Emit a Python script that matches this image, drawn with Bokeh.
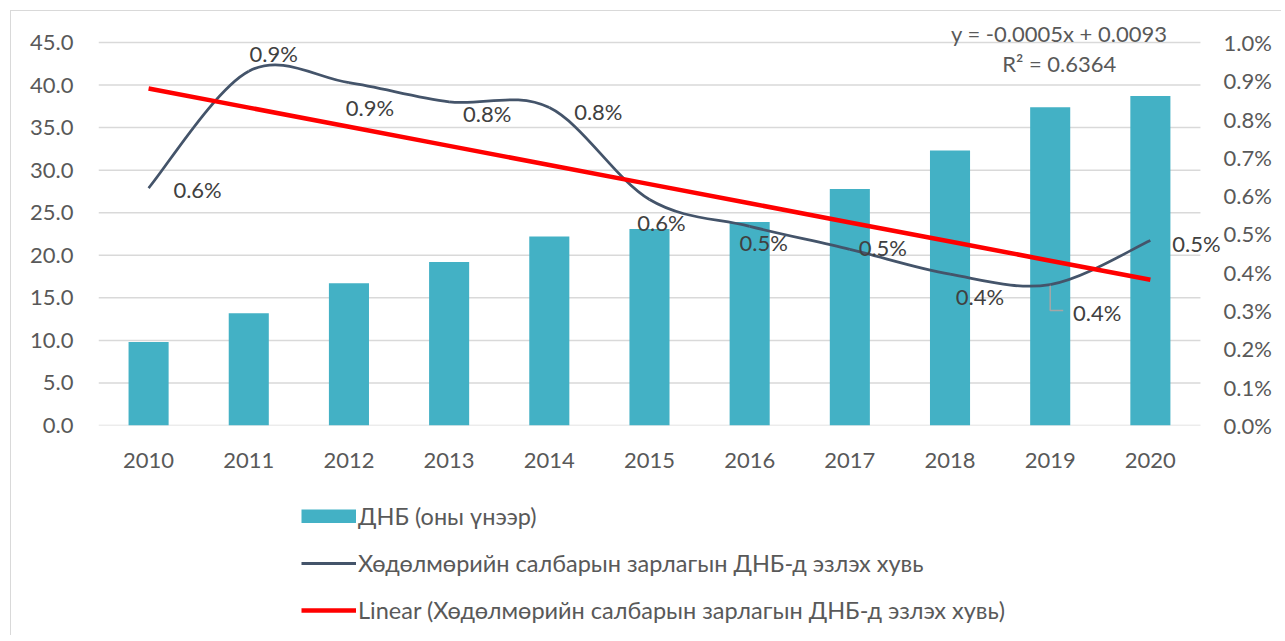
from bokeh.plotting import figure
from bokeh.layouts import column
from bokeh.models import (Range1d, LinearAxis, SingleIntervalTicker, FixedTicker, PrintfTickFormatter,
                          ColumnDataSource, LabelSet, Label, Legend, LegendItem)
from bokeh.core.properties import value
from bokeh.embed import file_html
from bokeh.resources import INLINE

# ---------------- data ----------------
years = ["2010", "2011", "2012", "2013", "2014", "2015", "2016", "2017", "2018", "2019", "2020"]
gdp = [9.8, 13.2, 16.7, 19.2, 22.2, 23.1, 23.9, 27.8, 32.3, 37.4, 38.7]          # ДНБ (оны үнээр)
share_pct = [0.62, 0.925, 0.895, 0.845, 0.83, 0.59, 0.52, 0.46, 0.395, 0.368, 0.483]  # %
left_ticks = [0, 5, 10, 15, 20, 25, 30, 35, 40, 45]
legend_labels = ["ДНБ (оны үнээр)",
                 "Хөдөлмөрийн салбарын зарлагын ДНБ-д эзлэх хувь",
                 "Linear (Хөдөлмөрийн салбарын зарлагын ДНБ-д эзлэх хувь)"]
trend_text = ["y = -0.0005x + 0.0093", "R² = 0.6364"]

# ---------------- styles ----------------
bar_color = "#43b1c5"
line_color = "#44546a"
trend_color = "#ff0000"
grid_color = "#d9d9d9"
tick_color = "#595959"
label_color = "#404040"
FONT = "Lato"
FS = "22px"
LEG_FS = "23.5px"
label_dx = [49, 25, 21, 38, 49, 12, 14, 33, 30, 47, 46]
label_dy = [-1, 18, -25, -12, -4, -23, -16, 2, -22, -28, -3]

LEFT_MAX = 45.0
Y_TOP = 48.17            # a little head-room above 45 for the trend equation
X_END = 11.22            # a little room right of the last category for its data label

# ---------------- main figure ----------------
p = figure(x_range=Range1d(0, X_END), y_range=Range1d(0, Y_TOP), width=1270, height=469,
           output_backend="svg", toolbar_location=None,
           min_border_left=87, min_border_right=59, min_border_top=4, min_border_bottom=55)
p.extra_y_ranges = {"pct": Range1d(0, Y_TOP / LEFT_MAX)}
p.outline_line_color = None
p.grid.grid_line_color = None

xs = [i + 0.5 for i in range(len(years))]

# gridlines (only across the category area)
p.segment(x0=[0] * len(left_ticks), x1=[len(years)] * len(left_ticks), y0=left_ticks, y1=left_ticks,
          line_color=grid_color, line_width=1.5)

# axes
p.yaxis.ticker = FixedTicker(ticks=left_ticks)
p.yaxis.formatter = PrintfTickFormatter(format="%.1f")
right = LinearAxis(y_range_name="pct", ticker=SingleIntervalTicker(interval=0.1),
                   formatter=PrintfTickFormatter(format="%.1f%%"))
p.add_layout(right, "right")
p.xaxis.ticker = FixedTicker(ticks=xs)
p.xaxis.major_label_overrides = {x: y for x, y in zip(xs, years)}
for ax in [p.yaxis[0], right, p.xaxis[0]]:
    ax.major_tick_line_color = None
    ax.minor_tick_line_color = None
    ax.major_tick_out = 0
    ax.major_tick_in = 0
    ax.minor_tick_out = 0
    ax.axis_line_color = None
    ax.major_label_text_font = FONT
    ax.major_label_text_font_size = FS
    ax.major_label_text_color = tick_color
p.yaxis[0].major_label_standoff = 25
right.major_label_standoff = 1
p.xaxis.major_label_standoff = 27

# bars
p.vbar(x=xs, top=gdp, width=0.4, fill_color=bar_color, line_color=None)

# smoothed line (cubic Bezier segments through the data points, like Excel's smooth line)
P = [share_pct[0]] + share_pct + [share_pct[-1]]
X = [xs[0]] + xs + [xs[-1]]
bz = dict(x0=[], y0=[], x1=[], y1=[], cx0=[], cy0=[], cx1=[], cy1=[])
for i in range(len(years) - 1):
    bz["x0"].append(X[i + 1]); bz["y0"].append(P[i + 1])
    bz["x1"].append(X[i + 2]); bz["y1"].append(P[i + 2])
    bz["cx0"].append(X[i + 1] + (X[i + 2] - X[i]) / 6); bz["cy0"].append(P[i + 1] + (P[i + 2] - P[i]) / 6)
    bz["cx1"].append(X[i + 2] - (X[i + 3] - X[i + 1]) / 6); bz["cy1"].append(P[i + 2] - (P[i + 3] - P[i + 1]) / 6)
p.bezier(source=ColumnDataSource(bz), x0="x0", y0="y0", x1="x1", y1="y1",
         cx0="cx0", cy0="cy0", cx1="cx1", cy1="cy1",
         line_color=line_color, line_width=2.75, y_range_name="pct")

# linear trend (least squares on x = 1..n)
n = len(share_pct)
tx = list(range(1, n + 1))
mx = sum(tx) / n
my = sum(share_pct) / n
slope = sum((a - mx) * (b - my) for a, b in zip(tx, share_pct)) / sum((a - mx) ** 2 for a in tx)
icpt = my - slope * mx
trend = [icpt + slope * a for a in tx]
p.line(x=xs, y=trend, line_color=trend_color, line_width=4.5, y_range_name="pct")

# leader line for the 2019 label
i19 = years.index("2019")
v19 = share_pct[i19]
p.line(x=[xs[i19], xs[i19], xs[i19] + 0.13], y=[v19 - 0.003, v19 - 0.068, v19 - 0.068],
       line_color="#a6a6a6", line_width=1.5, y_range_name="pct")

# data labels
lab_src = ColumnDataSource(dict(x=xs, y=share_pct,
                                text=["%.1f%%" % v for v in share_pct],
                                dx=label_dx, dy=label_dy))
p.add_layout(LabelSet(x="x", y="y", text="text", x_offset="dx", y_offset="dy",
                      source=lab_src, y_range_name="pct", text_align="center",
                      text_baseline="middle", text_font=value(FONT),
                      text_font_size=FS, text_color=label_color))

# trend equation
p.add_layout(Label(x=9.59, y=46.06, text=trend_text[0],
                   text_align="center", text_baseline="middle", text_font=FONT,
                   text_font_size=FS, text_color=tick_color))
p.add_layout(Label(x=9.59, y=42.53, text=trend_text[1],
                   text_align="center", text_baseline="middle", text_font=FONT,
                   text_font_size=FS, text_color=tick_color))

# ---------------- legend figure ----------------
leg = figure(width=1270, height=155, x_range=Range1d(0, 1), y_range=Range1d(0, 1),
             x_axis_type=None, y_axis_type=None, output_backend="svg", toolbar_location=None,
             min_border=0)
leg.outline_line_color = None
nanv = [float("nan")]
r1 = leg.line(x=[0], y=nanv, line_color=bar_color, line_width=14)
r2 = leg.line(x=[0], y=nanv, line_color=line_color, line_width=3)
r3 = leg.line(x=[0], y=nanv, line_color=trend_color, line_width=4.5)
legend = Legend(items=[LegendItem(label=legend_labels[0], renderers=[r1]),
                       LegendItem(label=legend_labels[1], renderers=[r2]),
                       LegendItem(label=legend_labels[2], renderers=[r3])],
                location=(203, 11), orientation="vertical",
                glyph_width=55, glyph_height=14, label_standoff=2, spacing=19,
                padding=0, margin=0, label_height=27,
                border_line_color=None, background_fill_alpha=0,
                label_text_font=FONT, label_text_font_size=LEG_FS, label_text_color=tick_color)
leg.add_layout(legend, "center")

layout = column(p, leg, spacing=0, margin=(10, 0, 0, 10),
                styles={"border-left": "1px solid #d9d9d9", "border-top": "1px solid #d9d9d9"})

open("out.html", "w").write(file_html(layout, INLINE))
